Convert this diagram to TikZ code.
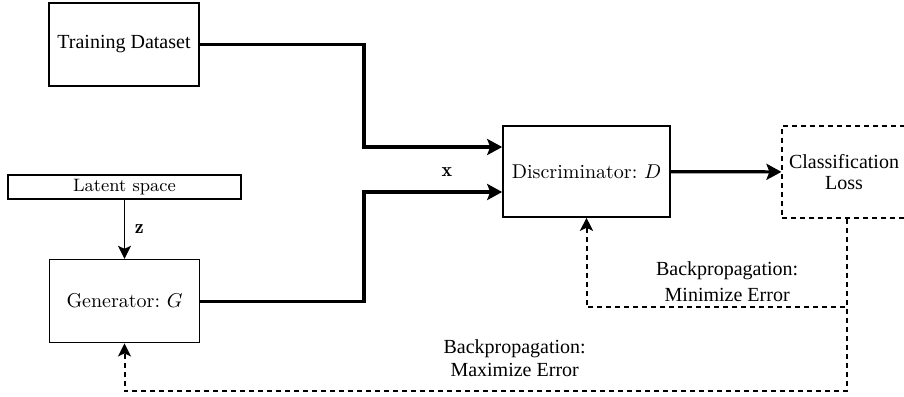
\documentclass[tikz,border=0pt]{standalone}
\usepackage{amsmath}
\usepackage{fontspec}
\newfontfamily\timesfont{Liberation Serif}
\usepackage{tikz}
\usetikzlibrary{arrows.meta,positioning,calc}
\frenchspacing

\begin{document}
\begin{tikzpicture}[
        x=0.5pt, y=-0.5pt,
        box/.style={rectangle, draw=black, line width=0.8pt, fill=white, inner sep=2pt, minimum width=75pt, minimum height=41.5pt, align=center},
        lossbox/.style={rectangle, draw=black, line width=0.9pt, dash pattern=on 2.5pt off 2pt, minimum width=59pt, minimum height=46pt, align=center, font=\timesfont\fontsize{10}{10.5}\selectfont},
        arrow/.style={-{Stealth[length=7.5pt, width=8pt, inset=1.5pt]}, line width=1.6pt},
        zarrow/.style={-{Stealth[length=6.5pt, width=6.5pt, inset=1.5pt]}, line width=0.8pt},
        backarrow/.style={-{Stealth[length=6.5pt, width=6.5pt, inset=1.5pt]}, line width=1pt, dash pattern=on 2.5pt off 2pt},
        backlabel/.style={align=center, font=\timesfont\fontsize{10}{13}\selectfont, inner sep=1pt}
    ]
    \useasboundingbox (0,0) rectangle (904,396);

    \node[box, font=\timesfont] (train) at (124,44.5) {Training Dataset};
    \node[box, minimum width=116.5pt, minimum height=12pt, inner sep=0pt, font=\fontsize{9}{10}\selectfont] (latent) at (124.5,187) {Latent space};
    \node[box] (gen) [below=29.5pt of latent] {Generator: $G$};
    \node[box, minimum width=83.5pt, minimum height=45.5pt] (disc) at (586.5,171.5) {Discriminator: $D$};
    \node[lossbox] (loss) at (844,172) {Classification\\Loss};

    % corner of the two inputs and rows of the feedback lines
    \coordinate (merge) at (364,171.5);
    \coordinate (minrow) at (0,307);
    \coordinate (maxrow) at (0,391);

    \draw[arrow] (train.east) -- (train.east -| merge) |- ([yshift=12.25pt]disc.west);
    \draw[arrow] (gen.east) -- (gen.east -| merge) |- ([yshift=-10.25pt]disc.west);
    \node (xlab) at (447,172) {$\mathbf{x}$};
    \draw[zarrow] (latent) -- node[right, xshift=1.5pt] {$\mathbf{z}$} (gen);
    \draw[arrow] (disc) -- (loss);

    \draw[backarrow] ([xshift=1.5pt]loss.south) |- node[backlabel, pos=0.73, above=1pt] {Backpropagation:\\Minimize Error} (disc.south |- minrow) -- (disc.south);
    \draw[backarrow] ([xshift=1.5pt]loss.south) |- node[backlabel, pos=0.73, above=5.5pt, font=\timesfont\fontsize{10}{11.5}\selectfont] {Backpropagation:\\Maximize Error} (gen.south |- maxrow) -- (gen.south);

\end{tikzpicture}
\end{document}
